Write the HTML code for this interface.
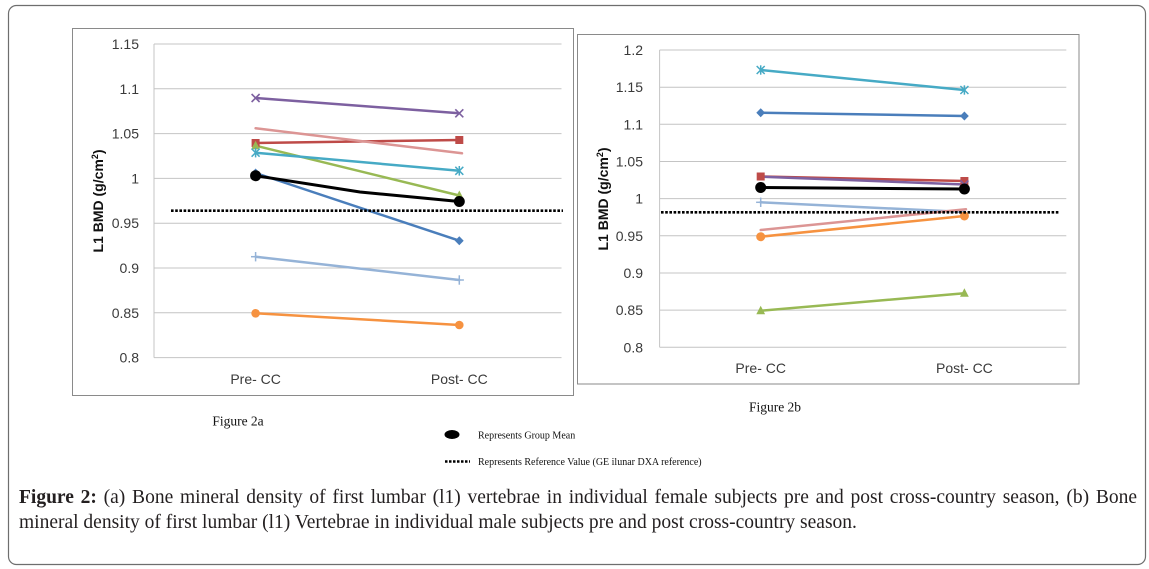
<!DOCTYPE html>
<html><head><meta charset="utf-8"><style>
html,body{margin:0;padding:0;background:#fff;}
body{width:1149px;height:569px;position:relative;overflow:hidden;}
svg{position:absolute;left:0;top:0;}
.cap{position:absolute;left:19px;font-family:"Liberation Serif",serif;font-size:19.5px;color:#231f20;white-space:nowrap;line-height:25px;}
</style></head><body>
<svg width="1149" height="569" viewBox="0 0 1149 569" xmlns="http://www.w3.org/2000/svg">
<rect x="8.5" y="5.5" width="1137" height="559" rx="8" ry="8" fill="#fff" stroke="#6e6e6e" stroke-width="1.2"/>
<!-- Chart 1 -->
<rect x="72.5" y="28.5" width="501" height="367" fill="#fff" stroke="#8a8a8a" stroke-width="1"/>
<g stroke="#c4c4c4" stroke-width="1">
<line x1="154" y1="44" x2="561.5" y2="44"/>
<line x1="154" y1="88.8" x2="561.5" y2="88.8"/>
<line x1="154" y1="133.6" x2="561.5" y2="133.6"/>
<line x1="154" y1="178.4" x2="561.5" y2="178.4"/>
<line x1="154" y1="223.2" x2="561.5" y2="223.2"/>
<line x1="154" y1="268" x2="561.5" y2="268"/>
<line x1="154" y1="312.8" x2="561.5" y2="312.8"/>
<line x1="154" y1="357.6" x2="561.5" y2="357.6"/>
<line x1="154" y1="44" x2="154" y2="357.6"/>
</g>
<g font-family="Liberation Sans, sans-serif" font-size="14" fill="#3a3a3a" text-anchor="end">
<text x="139" y="49">1.15</text>
<text x="139" y="93.8">1.1</text>
<text x="139" y="138.6">1.05</text>
<text x="139" y="183.4">1</text>
<text x="139" y="228.2">0.95</text>
<text x="139" y="273">0.9</text>
<text x="139" y="317.8">0.85</text>
<text x="139" y="362.6">0.8</text>
</g>
<g font-family="Liberation Sans, sans-serif" font-size="14" fill="#3a3a3a" text-anchor="middle">
<text x="255.6" y="384">Pre- CC</text>
<text x="459.3" y="384">Post- CC</text>
</g>
<text transform="translate(103,201) rotate(-90)" font-family="Liberation Sans, sans-serif" font-size="14" font-weight="bold" fill="#111" text-anchor="middle">L1 BMD (g/cm<tspan font-size="9" dy="-5">2</tspan><tspan dy="5">)</tspan></text>
<!-- series chart1 -->
<g stroke-width="2.5" fill="none" stroke-linecap="round">
<line x1="255.6" y1="173" x2="459.3" y2="240.7" stroke="#4a7ebb"/>
<line x1="255.6" y1="143" x2="459.3" y2="140" stroke="#be4b48"/>
<line x1="255.6" y1="145.7" x2="459.3" y2="195.5" stroke="#98b954"/>
<line x1="255.6" y1="98" x2="459.3" y2="113.3" stroke="#7d60a0"/>
<line x1="255.6" y1="152.7" x2="459.3" y2="170.8" stroke="#46aac5"/>
<line x1="255.6" y1="313.3" x2="459.3" y2="325" stroke="#f69240"/>
<line x1="255.6" y1="256.7" x2="459.3" y2="280" stroke="#95b3d7"/>
<line x1="255.6" y1="128.3" x2="462" y2="153.3" stroke="#dc9594"/>
<polyline points="255.6,175.7 360,192 459.3,201.5" stroke="#000" stroke-width="3"/>
</g>
<!-- markers chart1 -->
<polygon points="255.6,168.5 260,173 255.6,177.5 251.2,173" fill="#4a7ebb"/>
<polygon points="459.3,236.2 463.7,240.7 459.3,245.2 454.9,240.7" fill="#4a7ebb"/>
<rect x="251.6" y="139" width="8" height="8" fill="#be4b48"/>
<rect x="455.3" y="136" width="8" height="8" fill="#be4b48"/>
<polygon points="255.6,140.7 260,149.2 251.2,149.2" fill="#98b954"/>
<polygon points="459.3,190.5 463.7,199 454.9,199" fill="#98b954"/>
<g stroke="#7d60a0" stroke-width="1.6">
<line x1="251.6" y1="94" x2="259.6" y2="102"/><line x1="251.6" y1="102" x2="259.6" y2="94"/>
<line x1="455.3" y1="109.3" x2="463.3" y2="117.3"/><line x1="455.3" y1="117.3" x2="463.3" y2="109.3"/>
</g>
<g stroke="#46aac5" stroke-width="1.5">
<line x1="251.6" y1="148.7" x2="259.6" y2="156.7"/><line x1="251.6" y1="156.7" x2="259.6" y2="148.7"/><line x1="255.6" y1="148" x2="255.6" y2="157.4"/>
<line x1="455.3" y1="166.8" x2="463.3" y2="174.8"/><line x1="455.3" y1="174.8" x2="463.3" y2="166.8"/><line x1="459.3" y1="166" x2="459.3" y2="175.6"/>
</g>
<circle cx="255.6" cy="313.3" r="4.3" fill="#f69240"/>
<circle cx="459.3" cy="325" r="4.3" fill="#f69240"/>
<g stroke="#95b3d7" stroke-width="1.5">
<line x1="251" y1="256.7" x2="260.2" y2="256.7"/><line x1="255.6" y1="252" x2="255.6" y2="261.4"/>
<line x1="454.7" y1="280" x2="463.9" y2="280"/><line x1="459.3" y1="275.3" x2="459.3" y2="284.7"/>
</g>
<circle cx="255.6" cy="175.7" r="5.5" fill="#000"/>
<circle cx="459.3" cy="201.5" r="5.5" fill="#000"/>
<line x1="171" y1="210.7" x2="563" y2="210.7" stroke="#000" stroke-width="2.6" stroke-dasharray="2.6 1.6"/>

<!-- Chart 2 -->
<rect x="577.5" y="34.5" width="501.5" height="349.5" fill="#fff" stroke="#8a8a8a" stroke-width="1"/>
<g stroke="#c4c4c4" stroke-width="1">
<line x1="659.6" y1="50" x2="1066.3" y2="50"/>
<line x1="659.6" y1="87.2" x2="1066.3" y2="87.2"/>
<line x1="659.6" y1="124.3" x2="1066.3" y2="124.3"/>
<line x1="659.6" y1="161.5" x2="1066.3" y2="161.5"/>
<line x1="659.6" y1="198.6" x2="1066.3" y2="198.6"/>
<line x1="659.6" y1="235.8" x2="1066.3" y2="235.8"/>
<line x1="659.6" y1="273" x2="1066.3" y2="273"/>
<line x1="659.6" y1="310.1" x2="1066.3" y2="310.1"/>
<line x1="659.6" y1="347.3" x2="1066.3" y2="347.3"/>
<line x1="659.6" y1="50" x2="659.6" y2="347.3"/>
</g>
<g font-family="Liberation Sans, sans-serif" font-size="14" fill="#3a3a3a" text-anchor="end">
<text x="643" y="55">1.2</text>
<text x="643" y="92.2">1.15</text>
<text x="643" y="129.3">1.1</text>
<text x="643" y="166.5">1.05</text>
<text x="643" y="203.6">1</text>
<text x="643" y="240.8">0.95</text>
<text x="643" y="278">0.9</text>
<text x="643" y="315.1">0.85</text>
<text x="643" y="352.3">0.8</text>
</g>
<g font-family="Liberation Sans, sans-serif" font-size="14" fill="#3a3a3a" text-anchor="middle">
<text x="760.7" y="373">Pre- CC</text>
<text x="964.4" y="373">Post- CC</text>
</g>
<text transform="translate(608,199) rotate(-90)" font-family="Liberation Sans, sans-serif" font-size="14" font-weight="bold" fill="#111" text-anchor="middle">L1 BMD (g/cm<tspan font-size="9" dy="-5">2</tspan><tspan dy="5">)</tspan></text>
<g stroke-width="2.5" fill="none" stroke-linecap="round">
<line x1="760.7" y1="112.7" x2="964.4" y2="116" stroke="#4a7ebb"/>
<line x1="760.7" y1="176.5" x2="964.4" y2="181" stroke="#be4b48"/>
<line x1="760.7" y1="310.7" x2="964.4" y2="293.3" stroke="#98b954"/>
<line x1="760.7" y1="176.7" x2="964.4" y2="184.5" stroke="#7d60a0"/>
<line x1="760.7" y1="70" x2="964.4" y2="90" stroke="#46aac5"/>
<line x1="760.7" y1="236.7" x2="964.4" y2="216" stroke="#f69240"/>
<line x1="760.7" y1="202.3" x2="964.4" y2="212" stroke="#95b3d7"/>
<line x1="760.7" y1="230" x2="966" y2="209.3" stroke="#dc9594"/>
<line x1="760.7" y1="187.5" x2="964.4" y2="189" stroke="#000" stroke-width="3"/>
</g>
<polygon points="760.7,108.2 765.1,112.7 760.7,117.2 756.3,112.7" fill="#4a7ebb"/>
<polygon points="964.4,111.5 968.8,116 964.4,120.5 960,116" fill="#4a7ebb"/>
<rect x="756.7" y="172.5" width="8" height="8" fill="#be4b48"/>
<rect x="960.4" y="177" width="8" height="8" fill="#be4b48"/>
<polygon points="760.7,305.7 765.1,314.2 756.3,314.2" fill="#98b954"/>
<polygon points="964.4,288.3 968.8,296.8 960,296.8" fill="#98b954"/>
<g stroke="#7d60a0" stroke-width="1.6">
<line x1="960.4" y1="180.5" x2="968.4" y2="188.5"/><line x1="960.4" y1="188.5" x2="968.4" y2="180.5"/>
</g>
<g stroke="#46aac5" stroke-width="1.5">
<line x1="756.7" y1="66" x2="764.7" y2="74"/><line x1="756.7" y1="74" x2="764.7" y2="66"/><line x1="760.7" y1="65.3" x2="760.7" y2="74.7"/>
<line x1="960.4" y1="86" x2="968.4" y2="94"/><line x1="960.4" y1="94" x2="968.4" y2="86"/><line x1="964.4" y1="85.3" x2="964.4" y2="94.7"/>
</g>
<circle cx="760.7" cy="236.7" r="4.5" fill="#f69240"/>
<circle cx="964.4" cy="216" r="4.5" fill="#f69240"/>
<g stroke="#95b3d7" stroke-width="1.5">
<line x1="756.1" y1="202.3" x2="765.3" y2="202.3"/><line x1="760.7" y1="197.6" x2="760.7" y2="207"/>
</g>
<circle cx="760.7" cy="187.5" r="5.5" fill="#000"/>
<circle cx="964.4" cy="189" r="5.5" fill="#000"/>
<line x1="661" y1="212.3" x2="1059" y2="212.3" stroke="#000" stroke-width="2.6" stroke-dasharray="2.6 1.6"/>

<!-- sub labels and legend -->
<g font-family="Liberation Serif, serif" fill="#111">
<text x="238" y="425.5" font-size="13.5" text-anchor="middle">Figure 2a</text>
<text x="775" y="411.5" font-size="13.5" text-anchor="middle">Figure 2b</text>
<text x="478" y="438.5" font-size="10">Represents Group Mean</text>
<text x="478" y="465" font-size="10">Represents Reference Value (GE ilunar DXA reference)</text>
</g>
<ellipse cx="452" cy="434.5" rx="7.5" ry="4.5" fill="#000"/>
<line x1="445" y1="461.5" x2="470" y2="461.5" stroke="#000" stroke-width="2.5" stroke-dasharray="2.5 1.5"/>
</svg>
<div class="cap" style="top:485px;width:1118px;text-align:justify;text-align-last:justify;"><b>Figure 2:</b> (a) Bone mineral density of first lumbar (l1) vertebrae in individual female subjects pre and post cross-country season, (b) Bone</div>
<div class="cap" style="top:510px;">mineral density of first lumbar (l1) Vertebrae in individual male subjects pre and post cross-country season.</div>
</body></html>
